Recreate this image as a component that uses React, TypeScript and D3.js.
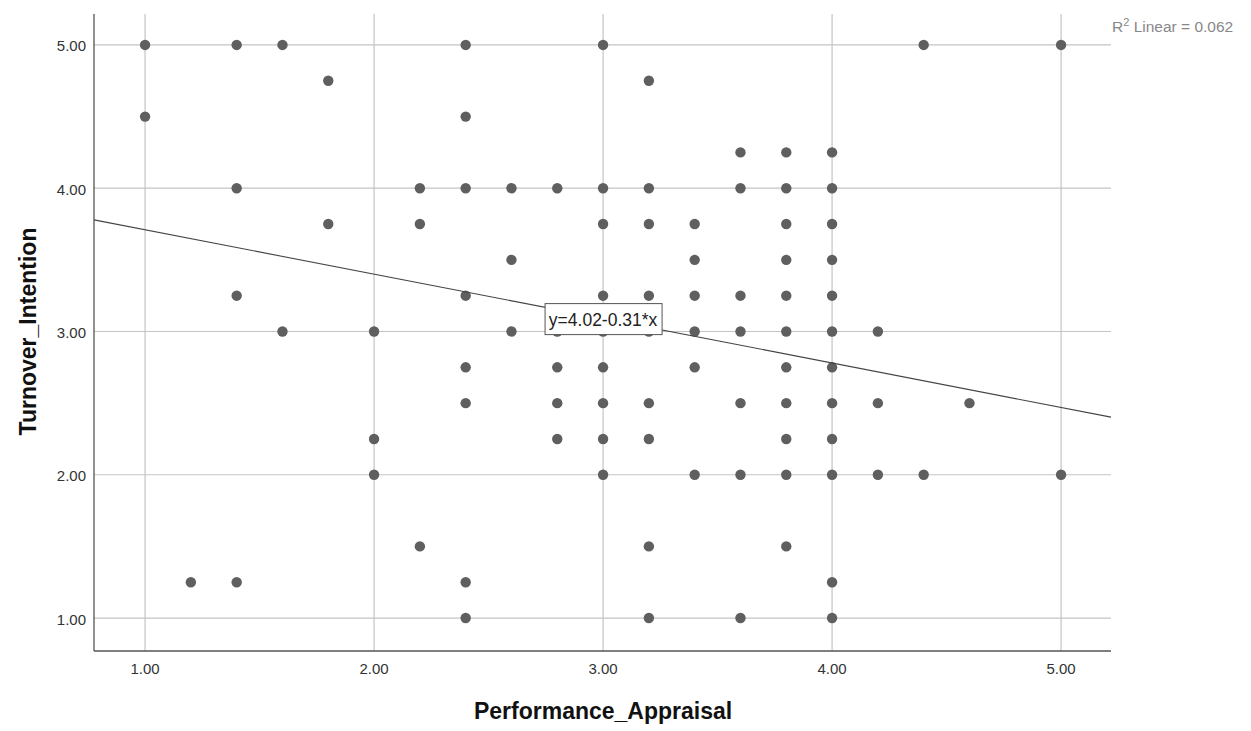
import React from "react";
import * as d3 from "d3";

const xTicks = [1, 2, 3, 4, 5];
const yTicks = [1, 2, 3, 4, 5];

// Performance_Appraisal columns and the Turnover_Intention values seen in each
const colX = [1.0, 1.2, 1.4, 1.6, 1.8, 2.0, 2.2, 2.4, 2.6, 2.8, 3.0, 3.2, 3.4, 3.6, 3.8, 4.0, 4.2, 4.4, 4.6, 5.0];
const colY: number[][] = [
  [5.0, 4.5],
  [1.25],
  [5.0, 4.0, 3.25, 1.25],
  [5.0, 3.0],
  [4.75, 3.75],
  [3.0, 2.25, 2.0],
  [4.0, 3.75, 1.5],
  [5.0, 4.5, 4.0, 3.25, 2.75, 2.5, 1.25, 1.0],
  [4.0, 3.5, 3.0],
  [4.0, 3.0, 2.75, 2.5, 2.25],
  [5.0, 4.0, 3.75, 3.25, 3.0, 2.75, 2.5, 2.25, 2.0],
  [4.75, 4.0, 3.75, 3.25, 3.0, 2.5, 2.25, 1.5, 1.0],
  [3.75, 3.5, 3.25, 3.0, 2.75, 2.0],
  [4.25, 4.0, 3.25, 3.0, 2.5, 2.0, 1.0],
  [4.25, 4.0, 3.75, 3.5, 3.25, 3.0, 2.75, 2.5, 2.25, 2.0, 1.5],
  [4.25, 4.0, 3.75, 3.5, 3.25, 3.0, 2.75, 2.5, 2.25, 2.0, 1.25, 1.0],
  [3.0, 2.5, 2.0],
  [5.0, 2.0],
  [2.5],
  [5.0, 2.0],
];

const intercept = 4.02;
const slope = -0.31;
const r2Text = "Linear = 0.062";
const xTitle = "Performance_Appraisal";
const yTitle = "Turnover_Intention";

const W = 1251;
const H = 731;
const L = 94, R = 1111, T = 14, B = 651;

export default function App() {
  const x = d3.scaleLinear().domain([0.777, 5.218]).range([L, R]);
  const y = d3.scaleLinear().domain([0.77, 5.216]).range([B, T]);
  const pts: [number, number][] = [];
  colX.forEach((cx, i) => colY[i].forEach((cy) => pts.push([cx, cy])));
  const [x0, x1] = x.domain();
  const line = d3.line<number>().x((v) => x(v)).y((v) => y(intercept + slope * v));
  const lx = 3;
  const ly = y(intercept + slope * lx);
  const font = "'Liberation Sans', Arial, sans-serif";
  return (
    <svg width={W} height={H} style={{ position: "absolute", left: 0, top: 0, background: "#fff" }} fontFamily={font}>
      {/* grid */}
      {xTicks.map((t) => (
        <line key={"gx" + t} x1={x(t)} x2={x(t)} y1={T} y2={B} stroke="#c4c4c4" strokeWidth={1.2} />
      ))}
      {yTicks.map((t) => (
        <line key={"gy" + t} x1={L} x2={R} y1={y(t)} y2={y(t)} stroke="#c4c4c4" strokeWidth={1.2} />
      ))}
      {/* axes */}
      <line x1={L} x2={L} y1={T} y2={B} stroke="#555" strokeWidth={1.3} />
      <line x1={L} x2={R} y1={B} y2={B} stroke="#555" strokeWidth={1.3} />
      {xTicks.map((t) => (
        <text key={"tx" + t} x={x(t)} y={B + 23} textAnchor="middle" fontSize={15} fill="#333">
          {t.toFixed(2)}
        </text>
      ))}
      {yTicks.map((t) => (
        <text key={"ty" + t} x={L - 8} y={y(t) + 6.5} textAnchor="end" fontSize={15} fill="#333">
          {t.toFixed(2)}
        </text>
      ))}
      {/* points */}
      {pts.map(([a, b], i) => (
        <circle key={i} cx={x(a)} cy={y(b)} r={5.2} fill="#5f5f5f" />
      ))}
      {/* fit line */}
      <path d={line([x0, x1]) || ""} fill="none" stroke="#444" strokeWidth={1.1} />
      <rect x={x(lx) - 58} y={ly - 15} width={117} height={31} fill="#fff" stroke="#555" strokeWidth={1} />
      <text x={x(lx)} y={ly + 7} textAnchor="middle" fontSize={17.5} fill="#222">
        y=4.02-0.31*x
      </text>
      {/* R2 label */}
      <text x={1112} y={32} fontSize={15.5} fill="#888">
        R<tspan fontSize={11} dy={-6}>2</tspan>
        <tspan dy={6}> {r2Text}</tspan>
      </text>
      {/* titles */}
      <text x={x(3)} y={719} textAnchor="middle" fontSize={23} fontWeight="bold" fill="#111">
        {xTitle}
      </text>
      <text transform={`translate(36, ${y(3)}) rotate(-90)`} textAnchor="middle" fontSize={23} fontWeight="bold" fill="#111">
        {yTitle}
      </text>
    </svg>
  );
}
